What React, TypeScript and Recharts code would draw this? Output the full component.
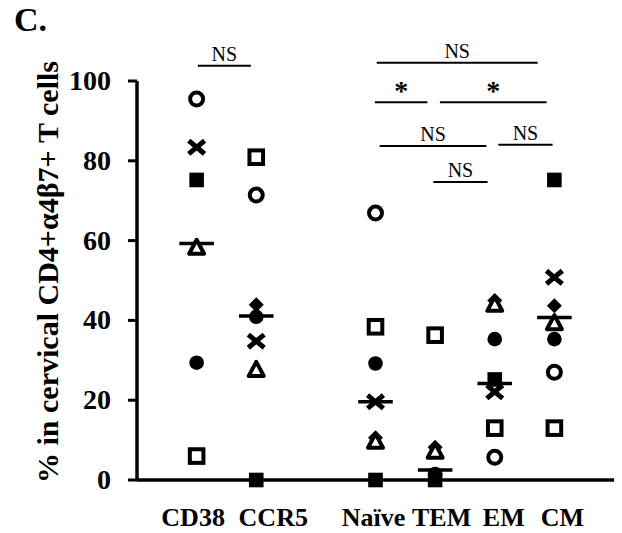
import React from 'react';
import { ScatterChart, Scatter, XAxis, YAxis, ReferenceLine } from 'recharts';

const categories = ['CD38', 'CCR5', 'Naïve', 'TEM', 'EM', 'CM'];
const categoryPositions = [1, 2, 4, 5, 6, 7];
const yTicks = [0, 20, 40, 60, 80, 100];

// values per subject, in the order of categories (null = not shown)
const openCircleVals = [95.5, 71.4, 66.9, null, 5.7, 27.0];
const crossVals = [83.4, 34.8, 19.6, null, 22.1, 50.8];
const filledSquareVals = [75.2, 0, 0, 0, 25.2, 75.2];
const openTriangleVals = [58.2, 27.6, 9.6, 7.1, 43.9, 39.3];
const filledCircleVals = [29.4, 40.9, 29.2, 1.5, 35.3, 35.3];
const openSquareVals = [6.0, 80.9, 38.4, 36.3, 13.0, 13.0];
const diamondVals = [null, 43.9, 10.6, 8.2, 45.0, 43.7];

const medians = [59.3, 41.1, 19.6, 2.5, 24.2, 40.7];

const sigBars = [
  { x1: 1.02, x2: 1.91, y: 103.8, label: 'NS' },
  { x1: 4.02, x2: 6.72, y: 104.6, label: 'NS' },
  { x1: 3.99, x2: 4.87, y: 94.7, label: '*' },
  { x1: 5.08, x2: 6.87, y: 94.7, label: '*' },
  { x1: 4.07, x2: 5.86, y: 83.7, label: 'NS' },
  { x1: 6.06, x2: 6.97, y: 84.0, label: 'NS' },
  { x1: 4.97, x2: 5.88, y: 74.7, label: 'NS' },
];

const toPoints = (vals: (number | null)[]) =>
  vals
    .map((v, i) => (v === null ? null : { x: categoryPositions[i], y: v }))
    .filter((p) => p !== null) as { x: number; y: number }[];

const FONT = '"Liberation Serif", "Times New Roman", "DejaVu Serif", serif';
const labelNudge: Record<number, number> = { 1: -3.5, 2: 17, 4: -2, 5: 6.5, 6: 9, 7: 8 };

const OpenCircle = (p: any) => (
  <circle cx={p.cx} cy={p.cy} r={6.5} fill="#fff" stroke="#000" strokeWidth={4} />
);
const FilledCircle = (p: any) => <circle cx={p.cx} cy={p.cy} r={7.3} fill="#000" />;
const FilledSquare = (p: any) => (
  <rect x={p.cx - 7.3} y={p.cy - 7.3} width={14.6} height={14.6} fill="#000" />
);
const OpenSquare = (p: any) => (
  <rect x={p.cx - 6.8} y={p.cy - 6.8} width={13.6} height={13.6} fill="#fff" stroke="#000" strokeWidth={4} />
);
const OpenTriangle = (p: any) => (
  <polygon
    points={`${p.cx},${p.cy - 8} ${p.cx - 7.5},${p.cy + 6} ${p.cx + 7.5},${p.cy + 6}`}
    fill="#fff"
    stroke="#000"
    strokeWidth={4}
    strokeLinejoin="round"
  />
);
const Diamond = (p: any) => (
  <polygon
    points={`${p.cx},${p.cy - 7.5} ${p.cx + 7.5},${p.cy} ${p.cx},${p.cy + 7.5} ${p.cx - 7.5},${p.cy}`}
    fill="#000"
  />
);
const Cross = (p: any) => (
  <path
    d={`M${p.cx - 6},${p.cy - 5} L${p.cx + 6},${p.cy + 5} M${p.cx + 6},${p.cy - 5} L${p.cx - 6},${p.cy + 5}`}
    stroke="#000"
    strokeWidth={5}
    strokeLinecap="square"
  />
);

const XTick = (props: any) => {
  const { x, y, payload } = props;
  const idx = categoryPositions.indexOf(payload.value);
  return (
    <text
      x={x + (labelNudge[payload.value] || 0)}
      y={y + 46}
      textAnchor="middle"
      fontFamily={FONT}
      fontWeight="bold"
      fontSize={26}
      fill="#000"
    >
      {categories[idx]}
    </text>
  );
};

const YTick = (props: any) => {
  const { x, y, payload } = props;
  return (
    <text
      x={x}
      y={y + 9}
      textAnchor="end"
      fontFamily={FONT}
      fontWeight="bold"
      fontSize={28}
      fill="#000"
    >
      {payload.value}
    </text>
  );
};

const YTitle = () => (
  <text
    x={58}
    y={272}
    transform="rotate(-90 58 272)"
    textAnchor="middle"
    fontFamily={FONT}
    fontWeight="bold"
    fontSize={30}
    fill="#000"
  >
    % in cervical CD4+α4β7+ T cells
  </text>
);

export default function App() {
  return (
    <div style={{ position: 'absolute', left: 0, top: 0, width: 622, height: 533, background: '#fff' }}>
      <ScatterChart width={622} height={533} margin={{ top: 81, right: 8, bottom: 0, left: 0 }}>
        <XAxis
          type="number"
          dataKey="x"
          domain={[0, 8]}
          ticks={categoryPositions}
          tickLine={false}
          tickSize={0}
          tickMargin={0}
          axisLine={{ stroke: '#000', strokeWidth: 3.5 }}
          tick={<XTick />}
          height={53}
          interval={0}
        />
        <YAxis
          type="number"
          dataKey="y"
          domain={[0, 100]}
          ticks={yTicks}
          width={137}
          tickSize={9}
          tickMargin={17}
          tickLine={{ stroke: '#000', strokeWidth: 3 }}
          axisLine={{ stroke: '#000', strokeWidth: 3.5 }}
          tick={<YTick />}
          label={{ content: () => <YTitle /> }}
        />
        <Scatter data={toPoints(diamondVals)} shape={Diamond} isAnimationActive={false} />
        <Scatter data={toPoints(openSquareVals)} shape={OpenSquare} isAnimationActive={false} />
        <Scatter data={toPoints(filledCircleVals)} shape={FilledCircle} isAnimationActive={false} />
        <Scatter data={toPoints(openTriangleVals)} shape={OpenTriangle} isAnimationActive={false} />
        <Scatter data={toPoints(filledSquareVals)} shape={FilledSquare} isAnimationActive={false} />
        <Scatter data={toPoints(crossVals)} shape={Cross} isAnimationActive={false} />
        <Scatter data={toPoints(openCircleVals)} shape={OpenCircle} isAnimationActive={false} />
        {medians.map((m, i) => (
          <ReferenceLine
            key={'m' + i}
            segment={[
              { x: categoryPositions[i] - 0.29, y: m },
              { x: categoryPositions[i] + 0.29, y: m },
            ]}
            stroke="#000"
            strokeWidth={3.5}
            ifOverflow="visible"
          />
        ))}
        {sigBars.map((b, i) => (
          <ReferenceLine
            key={'s' + i}
            segment={[
              { x: b.x1, y: b.y },
              { x: b.x2, y: b.y },
            ]}
            stroke="#000"
            strokeWidth={2}
            ifOverflow="visible"
            label={{
              value: b.label,
              position: 'top',
              offset: b.label === '*' ? 2 : 5,
              fontFamily: FONT,
              fontWeight: b.label === '*' ? 'bold' : 'normal',
              fontSize: b.label === '*' ? 28 : 20,
              fill: '#000',
            }}
          />
        ))}
      </ScatterChart>
      <svg width={80} height={50} style={{ position: 'absolute', left: 0, top: 0 }}>
        <text x={14} y={31} fontFamily={FONT} fontWeight="bold" fontSize={34} fill="#000">
          C.
        </text>
      </svg>
    </div>
  );
}
